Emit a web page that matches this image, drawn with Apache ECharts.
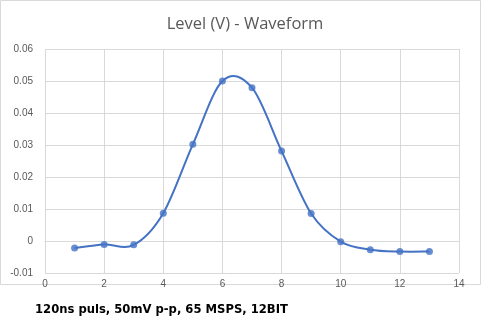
<!DOCTYPE html>
<html><head><meta charset="utf-8">
<script src="https://cdn.jsdelivr.net/npm/echarts@6/dist/echarts.min.js"></script>
<style>html,body{margin:0;padding:0;background:#fff}#c{width:501px;height:334px}</style>
</head><body><div id="c"></div>
<script>
const xValues = [1,2,3,4,5,6,7,8,9,10,11,12,13];
const levels = [-0.0022,-0.0011,-0.0012,0.0087,0.0302,0.0500,0.0479,0.0281,0.0086,-0.0002,-0.0027,-0.0033,-0.0033];
const titleText = 'Level (V) - Waveform';
const noteText = '120ns puls, 50mV p-p, 65 MSPS, 12BIT';

const LINE_COLOR = '#4472C4';
const pts = xValues.map((x,i)=>[x,levels[i]]);

// Excel-style smoothed segment (Catmull-Rom-like bezier, tension 1/6) computed in pixel space
function renderSegment(params, api){
  const i = params.dataIndex;
  const n = pts.length;
  if (i >= n-1) return null;
  const P = k => api.coord(pts[Math.max(0,Math.min(n-1,k))]);
  const p0 = P(i-1), p1 = P(i), p2 = P(i+1), p3 = P(i+2);
  const t = 1/6;
  const c1 = [p1[0]+(p2[0]-p0[0])*t, p1[1]+(p2[1]-p0[1])*t];
  const c2 = [p2[0]-(p3[0]-p1[0])*t, p2[1]-(p3[1]-p1[1])*t];
  return {type:'bezierCurve',
    shape:{x1:p1[0],y1:p1[1],cpx1:c1[0],cpy1:c1[1],cpx2:c2[0],cpy2:c2[1],x2:p2[0],y2:p2[1]},
    style:{stroke:LINE_COLOR,lineWidth:2,fill:null}};
}

const chart = echarts.init(document.getElementById('c'), null, {renderer:'canvas'});
chart.setOption({
  animation:false,
  backgroundColor:'#fff',
  title:{text:titleText,left:240,textAlign:'center',top:11,textStyle:{fontFamily:'Open Sans',fontSize:16.5,fontWeight:'normal',color:'#595959'}},
  graphic:[
    {type:'rect',shape:{x:0.5,y:0.5,width:480,height:284},style:{fill:'none',stroke:'#d9d9d9',lineWidth:1},z:-1},
    {type:'text',left:35,top:304,style:{text:noteText,font:'bold 11.6px "DejaVu Sans"',fill:'#000'}}
  ],
  grid:{left:45,right:42,top:49,bottom:61},
  xAxis:{type:'value',min:0,max:14,interval:2,
    axisLine:{show:true,onZero:true,lineStyle:{color:'#d9d9d9'}},
    axisTick:{show:false},
    splitLine:{show:true,lineStyle:{color:'#d9d9d9'}},
    axisLabel:{color:'#595959',fontFamily:'Liberation Sans',fontSize:10,margin:6}},
  yAxis:{type:'value',min:-0.01,max:0.06,interval:0.01,
    axisLine:{show:false},axisTick:{show:false},
    splitLine:{show:true,lineStyle:{color:'#d9d9d9'}},
    axisLabel:{color:'#595959',fontFamily:'Liberation Sans',fontSize:10,margin:12,
      formatter:v=>Math.abs(v)<1e-9?'0':v.toFixed(2)}},
  series:[
    {type:'custom',data:pts,renderItem:renderSegment,clip:true,z:2},
    {type:'scatter',data:pts,symbol:'circle',symbolSize:7,itemStyle:{color:LINE_COLOR},z:3}
  ]
});
</script></body></html>
